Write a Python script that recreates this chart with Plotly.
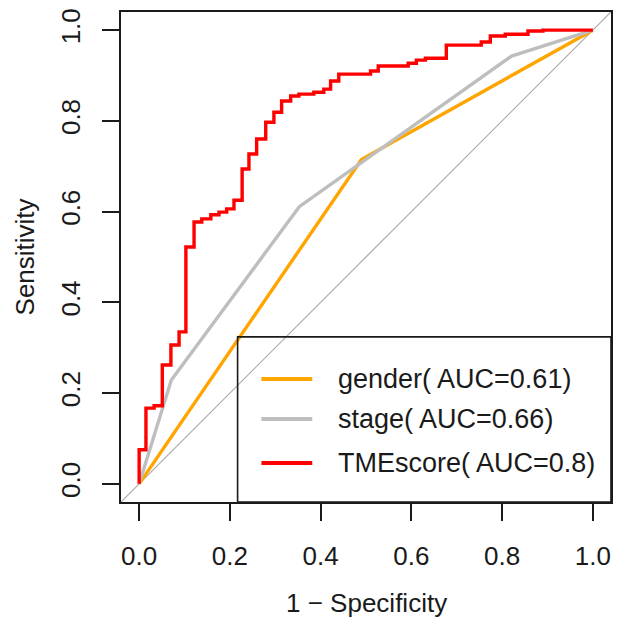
import plotly.graph_objects as go

# ROC coordinates (1 - specificity, sensitivity) for each predictor
gender_fpr = [0.0, 0.49, 1.0]
gender_tpr = [0.0, 0.715, 1.0]

stage_fpr = [0.0, 0.071, 0.353, 0.821, 1.0]
stage_tpr = [0.0, 0.229, 0.611, 0.943, 1.0]

tme_fpr = [0.0, 0.0, 0.015, 0.033, 0.051, 0.070, 0.088, 0.103, 0.121, 0.138,
           0.158, 0.176, 0.193, 0.209, 0.227, 0.242, 0.259, 0.279, 0.297, 0.314,
           0.334, 0.352, 0.385, 0.407, 0.422, 0.440, 0.510, 0.527, 0.593, 0.611,
           0.631, 0.677, 0.754, 0.774, 0.807, 0.857, 0.890, 1.0]
tme_tpr = [0.0, 0.075, 0.167, 0.172, 0.262, 0.306, 0.335, 0.522, 0.577, 0.584,
           0.593, 0.599, 0.606, 0.625, 0.694, 0.727, 0.760, 0.797, 0.819, 0.844,
           0.855, 0.859, 0.863, 0.870, 0.888, 0.903, 0.910, 0.921, 0.927, 0.934,
           0.938, 0.967, 0.974, 0.987, 0.991, 0.998, 1.0, 1.0]

series_names = ["gender", "stage", "TMEscore"]
series_auc = ["0.61", "0.66", "0.8"]
series_colors = ["#FFA500", "#BEBEBE", "#FF0000"]

tick_vals = [0.0, 0.2, 0.4, 0.6, 0.8, 1.0]
tick_text = ["0.0", "0.2", "0.4", "0.6", "0.8", "1.0"]
axis_range = [-0.04, 1.04]

FONT = "Liberation Sans, Arial, sans-serif"
INK = "#1a1a1a"
FS = 26

fig = go.Figure()

# reference diagonal across the whole plotting region
fig.add_trace(go.Scatter(x=axis_range, y=axis_range, mode="lines",
                         line=dict(color="#A9A9A9", width=1.2), hoverinfo="skip"))

fig.add_trace(go.Scatter(x=gender_fpr, y=gender_tpr, mode="lines",
                         line=dict(color=series_colors[0], width=3.4)))
fig.add_trace(go.Scatter(x=stage_fpr, y=stage_tpr, mode="lines",
                         line=dict(color=series_colors[1], width=3.4)))
fig.add_trace(go.Scatter(x=tme_fpr, y=tme_tpr, mode="lines", line_shape="hv",
                         line=dict(color=series_colors[2], width=3.4)))

axis_common = dict(range=axis_range, tickvals=tick_vals, ticktext=tick_text,
                   ticks="outside", ticklen=17, tickwidth=1.6, tickcolor=INK,
                   showline=True, linecolor=INK, linewidth=1.8, mirror=True,
                   showgrid=False, zeroline=False,
                   tickfont=dict(family=FONT, size=FS, color=INK))

fig.update_xaxes(**axis_common, ticklabelstandoff=13)
fig.update_yaxes(**axis_common, tickangle=-90, ticklabelstandoff=12)

# legend box anchored at the bottom-right corner of the plotting region
leg_x0, leg_y1 = 0.217, 0.324
fig.add_shape(type="rect", xref="x", yref="y", x0=leg_x0, x1=axis_range[1],
              y0=axis_range[0], y1=leg_y1, line=dict(color=INK, width=1.6),
              fillcolor="rgba(0,0,0,0)", layer="above")
leg_rows = [0.2311, 0.1429, 0.0460]
for name, auc, color, yy in zip(series_names, series_auc, series_colors, leg_rows):
    fig.add_shape(type="line", xref="x", yref="y", x0=0.2695, x1=0.3815,
                  y0=yy, y1=yy, line=dict(color=color, width=4))
    fig.add_annotation(x=0.434, y=yy, xref="x", yref="y", xanchor="left",
                       yanchor="middle", showarrow=False,
                       text=f"{name}( AUC={auc})",
                       font=dict(family=FONT, size=FS + 1, color=INK))

# axis titles
fig.add_annotation(x=0.5, y=-0.206, xref="paper", yref="paper", showarrow=False,
                   text="1 \u2212 Specificity", xanchor="center", yanchor="middle",
                   font=dict(family=FONT, size=FS, color=INK))
fig.add_annotation(x=-0.195, y=0.5, xref="paper", yref="paper", showarrow=False,
                   text="Sensitivity", textangle=-90, xanchor="center",
                   yanchor="middle", font=dict(family=FONT, size=FS, color=INK))

fig.update_layout(width=618, height=620, showlegend=False,
                  margin=dict(l=121, r=5, t=12, b=118),
                  plot_bgcolor="white", paper_bgcolor="white",
                  font=dict(family=FONT, size=FS, color=INK))

fig.write_html("out.html")
